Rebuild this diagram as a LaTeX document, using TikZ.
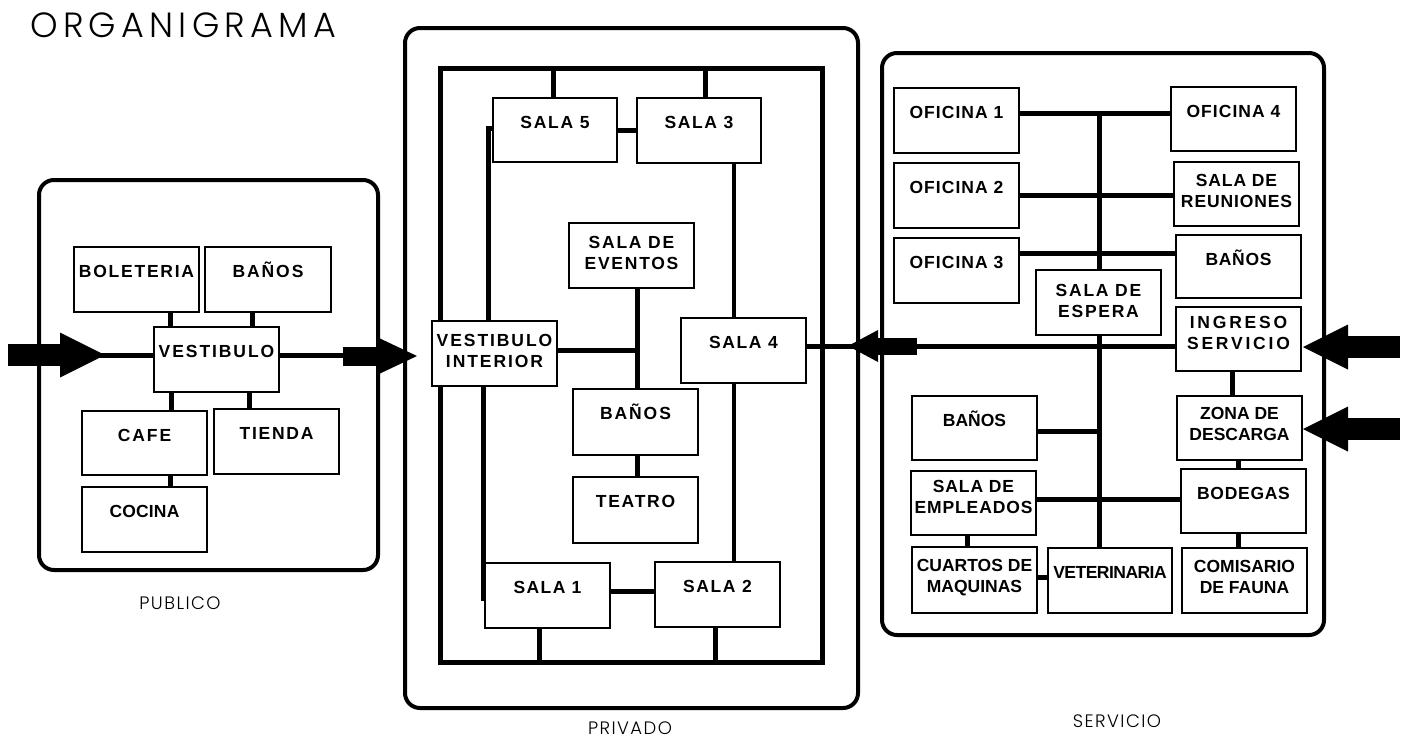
\documentclass[tikz,border=0pt]{standalone}
\usepackage{fontspec}
\newfontfamily\bxf{Liberation Sans}
\IfFontExistsTF{Poppins Light}{\newfontfamily\ttlf{Poppins Light}}{\newfontfamily\ttlf{Poppins}}
\tikzset{
  panel/.style={draw, line width=4pt, rounded corners=15pt},
  box/.style={draw, line width=2pt, fill=white, inner sep=0pt, rectangle},
  lbl/.style={anchor=north, inner sep=0pt, align=center,
    font={\bxf\bfseries\fontsize{17.5}{21}\selectfont\addfontfeature{LetterSpace=#1}},
    execute at begin node={\rule{0pt}{17pt}}},
  lbl/.default=10,
  conn/.style={line width=5pt},
  grp/.style={font={\ttlf\fontsize{18}{20}\selectfont\addfontfeature{LetterSpace=8}}, anchor=base, inner sep=0pt},
}
% #1 text offset, #2 name, #3..#6 x1 y1 x2 y2, #7 letterspace, #8 text
\newcommand\rbox[8][14]{%
  \node[box, minimum width={(#5-#3)*1pt}, minimum height={(#6-#4)*1pt}] (#2) at ({(#3+#5)/2},{(#4+#6)/2}) {};
  \node[lbl=#7] (#2t) at ([yshift=-#1pt]#2.north) {#8};}
\newcommand\bigarr[6]{%
  \fill (#1,{#4-#5}) rectangle (#2,{#4+#5});
  \fill (#2,{#4-#6}) -- (#3,#4) -- (#2,{#4+#6}) -- cycle;}
\begin{document}
\begin{tikzpicture}[x=1pt,y=-1pt]
\useasboundingbox (0,0) rectangle (1410,740);
\fill[white] (0,0) rectangle (1410,740);

% title and group labels
\node[anchor=base west, inner sep=0pt, font={\ttlf\fontsize{35}{40}\selectfont\addfontfeature{LetterSpace=15}}] (title) at (30,37) {ORGANIGRAMA};
\node[grp] (gpub) at (180,609) {PUBLICO};
\node[grp] (gpri) at (630,734) {PRIVADO};
\node[grp] (gser) at (1117,727) {SERVICIO};

% panels
\draw[panel] (39,180) rectangle (378,570);
\draw[panel] (405,28) rectangle (858,708);
\draw[panel] (882,53) rectangle (1324,635);

% privado frame
\coordinate (fTL) at (440,68);
\coordinate (fBR) at (822,662);
\draw[conn] (fTL) rectangle (fBR);

% PUBLICO boxes
\rbox{bol}{74}{247}{199}{312}{10}{BOLETERIA}
\rbox{banP}{205}{247}{331}{312}{11}{BAÑOS}
\rbox{vest}{154}{327}{279}{392}{11}{VESTIBULO}
\rbox{cafe}{82}{411}{207}{475}{11}{CAFE}
\rbox{tienda}{214}{409}{339}{474}{10}{TIENDA}
\rbox{cocina}{82}{487}{207}{552}{1}{COCINA}

% PRIVADO boxes
\rbox{sfive}{493}{98}{617}{162}{10}{SALA 5}
\rbox{sthree}{637}{98}{761}{163}{9}{SALA 3}
\rbox{ev}{569}{223}{694}{288}{10}{SALA DE\\EVENTOS}
\rbox{vi}{432}{321}{557}{386}{11}{VESTIBULO\\INTERIOR}
\rbox{sfour}{681}{318}{806}{383}{9}{SALA 4}
\rbox{banV}{573}{389}{698}{455}{11}{BAÑOS}
\rbox{teatro}{573}{477}{698}{543}{10}{TEATRO}
\rbox{sone}{485}{563}{610}{628}{8}{SALA 1}
\rbox{stwo}{655}{562}{780}{627}{9}{SALA 2}

% SERVICIO boxes
\rbox{ofone}{894}{88}{1019}{153}{6}{OFICINA 1}
\rbox{oftwo}{894}{163}{1019}{228}{6}{OFICINA 2}
\rbox{ofthree}{894}{238}{1019}{303}{6}{OFICINA 3}
\rbox{offour}{1171}{87}{1296}{151}{6}{OFICINA 4}
\rbox[13]{reun}{1174}{162}{1299}{226}{5}{SALA DE\\REUNIONES}
\rbox{banR}{1176}{235}{1301}{298}{4}{BAÑOS}
\rbox[15]{esp}{1036}{270}{1161}{335}{10}{SALA DE\\ESPERA}
\rbox[10]{ing}{1176}{307}{1301}{371}{16}{INGRESO\\SERVICIO}
\rbox[12]{zona}{1177}{396}{1302}{460}{0}{ZONA DE\\DESCARGA}
\rbox{bod}{1181}{469}{1306}{533}{4}{BODEGAS}
\rbox[13]{com}{1182}{548}{1307}{613}{0}{COMISARIO\\DE FAUNA}
\rbox{banL}{912}{396}{1037}{460}{0}{BAÑOS}
\rbox[10]{empl}{911}{471}{1036}{535}{5}{SALA DE\\EMPLEADOS}
\rbox[13]{cua}{912}{547}{1037}{613}{0}{CUARTOS DE\\MAQUINAS}
\rbox{vet}{1048}{548}{1172}{613}{-3}{VETERINARIA}

% PUBLICO connectors
\draw[conn] (bol.south -| 170,0) -- (vest.north -| 170,0);
\draw[conn] (banP.south -| 252,0) -- (vest.north -| 252,0);
\draw[conn] (vest.south -| 171,0) -- (cafe.north -| 171,0);
\draw[conn] (vest.south -| 249,0) -- (tienda.north -| 249,0);
\draw[conn] (cafe.south -| 170,0) -- (cocina.north -| 170,0);
\coordinate (inA) at (60,355);
\coordinate (outA) at (343,355);
\draw[conn] (inA) -- (vest.west |- inA);
\draw[conn] (vest.east |- outA) -- (outA);

% PRIVADO connectors
\draw[conn] (sfive.north -| 553,0) -- (fTL -| 553,0);
\draw[conn] (sthree.north -| 705,0) -- (fTL -| 705,0);
\draw[conn] (sfive.east |- 0,130) -- (sthree.west |- 0,130);
\draw[conn] (vi.north -| 488,0) |- (sfive.west |- 0,128);
\draw[conn] (vi.south -| 483,0) |- (sone.west |- 0,598);
\coordinate (jv) at (637,350);
\draw[conn] (vi.east |- jv) -- (jv);
\draw[conn] (ev.south -| jv) -- (banV.north -| jv);
\draw[conn] (banV.south -| jv) -- (teatro.north -| jv);
\draw[line width=4pt] (sthree.south -| 734,0) -- (sfour.north -| 734,0);
\draw[line width=4pt] (sfour.south -| 734,0) -- (stwo.north -| 734,0);
\draw[conn] (sone.east |- 0,591) -- (stwo.west |- 0,591);
\draw[conn] (sone.south -| 539,0) -- (fBR -| 539,0);
\draw[conn] (stwo.south -| 715,0) -- (fBR -| 715,0);

% SERVICIO connectors
\coordinate (spTop) at (1099,113);
\draw[conn] (ofone.east |- spTop) -- (offour.west |- spTop);
\draw[conn] (spTop) -- (esp.north -| spTop);
\draw[conn] (esp.south -| spTop) -- (vet.north -| spTop);
\draw[conn] (oftwo.east |- 0,195) -- (reun.west |- 0,195);
\draw[conn] (ofthree.east |- 0,253) -- (banR.west |- 0,253);
\draw[conn] (ing.west |- 0,346) -- (sfour.east |- 0,346);
\draw[conn] (banL.east |- 0,431) -- (spTop |- 0,431);
\draw[conn] (empl.east |- 0,499) -- (bod.west |- 0,499);
\draw[conn] (empl.south -| 967,0) -- (cua.north -| 967,0);
\draw[conn] (cua.east |- 0,577) -- (vet.west |- 0,577);
\draw[conn] (ing.south -| 1232,0) -- (zona.north -| 1232,0);
\draw[conn] (zona.south -| 1238,0) -- (bod.north -| 1238,0);
\draw[conn] (bod.south -| 1238,0) -- (com.north -| 1238,0);

% big arrows
\bigarr{8}{60}{105}{355}{11}{22.5}
\bigarr{343}{380}{417}{356}{9.5}{17.5}
\bigarr{917}{878}{848}{346}{8.5}{16}
\bigarr{1400}{1348}{1303}{347}{11}{22.5}
\bigarr{1400}{1348}{1303}{429}{11}{22.5}
\end{tikzpicture}
\end{document}
